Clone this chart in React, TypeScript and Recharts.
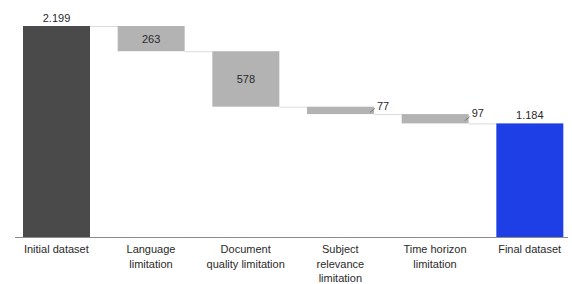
import React from 'react';
import { BarChart, Bar, XAxis, YAxis } from 'recharts';

const categories = [
  'Initial dataset',
  'Language\nlimitation',
  'Document\nquality limitation',
  'Subject\nrelevance\nlimitation',
  'Time horizon\nlimitation',
  'Final dataset',
];
const values = [2199, 263, 578, 77, 97, 1184];
const kinds = ['total', 'decrease', 'decrease', 'decrease', 'decrease', 'total'];

const COLORS: Record<string, string> = {
  initial: '#4a4a4a',
  decrease: '#b3b3b3',
  final: '#1f3fe6',
};
const FONT = '"Liberation Sans", Arial, sans-serif';
const GAP = 14;

const fmt = (v: number) => String(v).replace(/\B(?=(\d{3})+(?!\d))/g, '.');

let running = 0;
const data = categories.map((name, i) => {
  const v = values[i];
  let base = 0;
  if (kinds[i] === 'total') {
    base = 0;
    running = v;
  } else {
    running = running - v;
    base = running;
  }
  return { name, base, delta: v, kind: kinds[i], idx: i };
});

const WaterfallShape = (props: any) => {
  const { x, y, width, height, payload } = props;
  const i = payload.idx;
  const isFirst = i === 0;
  const isLast = i === data.length - 1;
  const fill =
    payload.kind === 'total' ? (isFirst ? COLORS.initial : COLORS.final) : COLORS.decrease;
  const levelY = payload.kind === 'total' ? y : y + height;
  const cx = x + width / 2;
  const els: any[] = [];
  els.push(<rect key="r" x={x} y={y} width={width} height={height} fill={fill} />);
  if (isFirst) {
    const band = width + 2 * GAP;
    const bottom = y + height;
    els.push(
      <line
        key="axis"
        x1={x - 8}
        x2={x + (data.length - 1) * band + width + 3}
        y1={bottom + 0.5}
        y2={bottom + 0.5}
        stroke="#8c8c8c"
        strokeWidth={1}
      />
    );
  }
  if (!isLast) {
    els.push(
      <line
        key="c"
        x1={x + width}
        x2={x + width + 2 * GAP}
        y1={levelY + 0.5}
        y2={levelY + 0.5}
        stroke="#dcdcdc"
        strokeWidth={1}
      />
    );
  }
  const label = fmt(payload.delta);
  if (payload.kind === 'total') {
    els.push(
      <text key="t" x={cx} y={y - 4} textAnchor="middle" fontSize={11} fill="#2a2a2a" fontFamily={FONT}>
        {label}
      </text>
    );
  } else if (height >= 15) {
    els.push(
      <text key="t" x={cx} y={y + height / 2 + 4} textAnchor="middle" fontSize={11} fill="#2a2a2a" fontFamily={FONT}>
        {label}
      </text>
    );
  } else {
    els.push(
      <line
        key="l"
        x1={x + width - 4}
        y1={y + height / 2 + 2}
        x2={x + width + 1}
        y2={y + height / 2 - 2}
        stroke="#666"
        strokeWidth={0.8}
      />
    );
    els.push(
      <text key="t" x={x + width + 3} y={y + 3} textAnchor="start" fontSize={11} fill="#2a2a2a" fontFamily={FONT}>
        {label}
      </text>
    );
  }
  return <g>{els}</g>;
};

const Tick = (props: any) => {
  const { x, y, payload } = props;
  const lines = String(payload.value).split('\n');
  return (
    <text x={x} y={y} textAnchor="middle" fontSize={11} fill="#2a2a2a" fontFamily={FONT}>
      {lines.map((l, k) => (
        <tspan key={k} x={x} y={y + 16 + k * 14.5}>
          {l}
        </tspan>
      ))}
    </text>
  );
};

export default function App() {
  return (
    <div
      style={{
        position: 'absolute',
        left: 0,
        top: 0,
        width: 572,
        height: 284,
        overflow: 'hidden',
        background: '#fff',
      }}
    >
      <BarChart
        width={577}
        height={284}
        data={data}
        margin={{ top: 26, right: 0, bottom: 0, left: 9 }}
        barCategoryGap={GAP}
        style={{ overflow: 'visible' }}
      >
        <XAxis
          dataKey="name"
          interval={0}
          tickLine={false}
          tickSize={0}
          tickMargin={0}
          height={47}
          axisLine={false}
          tick={<Tick />}
        />
        <YAxis hide domain={[0, 2199]} />
        <Bar dataKey="base" stackId="a" fill="transparent" isAnimationActive={false} />
        <Bar dataKey="delta" stackId="a" shape={<WaterfallShape />} isAnimationActive={false} />
      </BarChart>
    </div>
  );
}
